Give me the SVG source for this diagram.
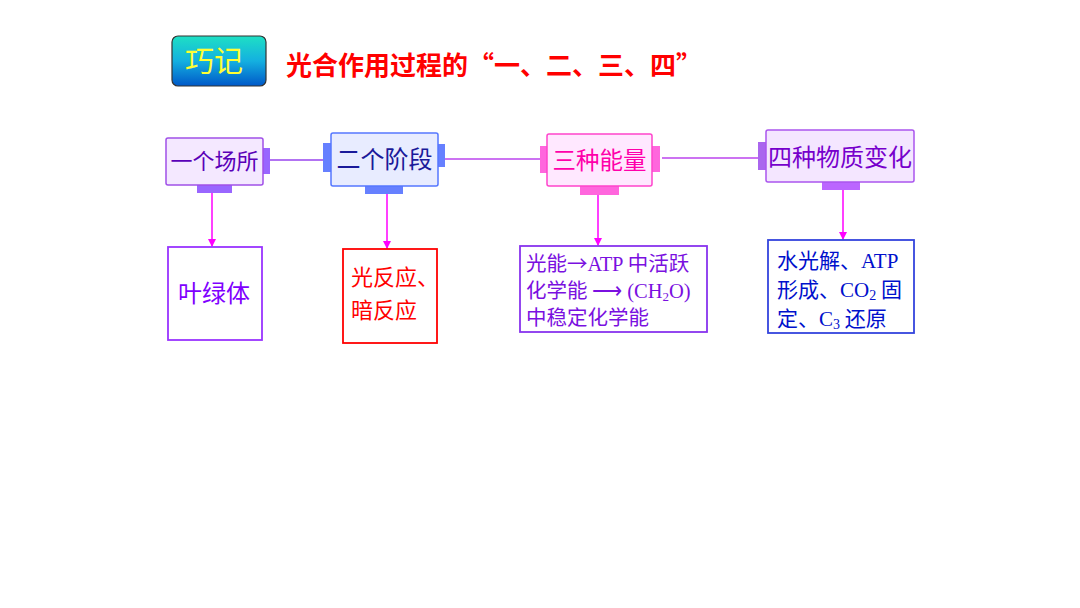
<svg xmlns="http://www.w3.org/2000/svg" width="1080" height="608" viewBox="0 0 1080 608">
<defs>
<linearGradient id="badge" x1="0" y1="0" x2="0" y2="1">
<stop offset="0" stop-color="#1ee0c4"/>
<stop offset="0.5" stop-color="#14b0e0"/>
<stop offset="1" stop-color="#0058c8"/>
</linearGradient>
<marker id="ah" markerWidth="8" markerHeight="8" refX="7" refY="4" orient="auto" markerUnits="userSpaceOnUse">
<path d="M0,0 L8,4 L0,8 Z" fill="#ff00ff"/>
</marker>
<style>
.cjk{font-family:"Noto Sans CJK SC","Noto Sans",sans-serif;}
.lat{font-family:"Liberation Serif",serif;}
.hline{stroke-width:1.5;fill:none;}
.vline{stroke:#ff00ff;stroke-width:1.5;fill:none;marker-end:url(#ah);}
</style>
</defs>
<rect width="1080" height="608" fill="#ffffff"/>

<g id="title">
<rect x="172" y="36" width="94" height="50" rx="6" fill="url(#badge)" stroke="#333" stroke-width="1.2"/>
<text x="214" y="72" class="cjk" font-size="29" fill="#ffff33" text-anchor="middle">巧记</text>
<text x="286" y="75" class="cjk" font-size="26" font-weight="bold" fill="#ff0000">光合作用过程的“一、二、三、四”</text>
</g>

<g id="connectors">
<line class="hline" x1="270" y1="160" x2="323" y2="160" stroke="#9944ee"/>
<line class="hline" x1="445" y1="159" x2="540" y2="159" stroke="#bb44ee"/>
<line class="hline" x1="662" y1="158" x2="758" y2="158" stroke="#bb44ee"/>
<line class="vline" x1="212" y1="193" x2="212" y2="246"/>
<line class="vline" x1="387" y1="194" x2="387" y2="248"/>
<line class="vline" x1="598" y1="195" x2="598" y2="245"/>
<line class="vline" x1="843" y1="190" x2="843" y2="239"/>
</g>

<g id="node1">
<rect x="263" y="148" width="7" height="26" fill="#9966ff"/>
<rect x="197" y="185" width="35" height="8" fill="#9966ff"/>
<rect x="166" y="138" width="97" height="47" rx="2" fill="#f4e8ff" stroke="#a050e8" stroke-width="1.5"/>
<text x="214.5" y="169" class="cjk" font-size="22" fill="#5a00b8" text-anchor="middle">一个场所</text>
</g>

<g id="node2">
<rect x="323" y="143" width="8" height="29" fill="#6680ff"/>
<rect x="438" y="144" width="7" height="23" fill="#6680ff"/>
<rect x="365" y="186" width="38" height="8" fill="#6680ff"/>
<rect x="331" y="133" width="107" height="53" rx="2" fill="#e8ecff" stroke="#5577ff" stroke-width="1.5"/>
<text x="384.5" y="168" class="cjk" font-size="24" fill="#1a1a9a" text-anchor="middle">二个阶段</text>
</g>

<g id="node3">
<rect x="540" y="146" width="7" height="27" fill="#ff66dd"/>
<rect x="652" y="146" width="8" height="26" fill="#ff66dd"/>
<rect x="580" y="186" width="39" height="9" fill="#ff66dd"/>
<rect x="547" y="134" width="105" height="52" rx="2" fill="#ffe8ff" stroke="#ff44cc" stroke-width="1.5"/>
<text x="599.5" y="169" class="cjk" font-size="23.5" fill="#ff00aa" text-anchor="middle">三种能量</text>
</g>

<g id="node4">
<rect x="758" y="142" width="8" height="28" fill="#aa66ee"/>
<rect x="822" y="182" width="38" height="8" fill="#bb66ff"/>
<rect x="766" y="130" width="148" height="52" rx="2" fill="#f4e6ff" stroke="#aa55ee" stroke-width="1.5"/>
<text x="840" y="166" class="cjk" font-size="24" fill="#7700cc" text-anchor="middle">四种物质变化</text>
</g>

<g id="node5">
<rect x="168" y="247" width="94" height="93" fill="#ffffff" stroke="#9933ff" stroke-width="1.8"/>
<text x="214" y="302" class="cjk" font-size="24" fill="#8000ff" text-anchor="middle">叶绿体</text>
</g>

<g id="node6">
<rect x="343" y="249" width="94" height="94" fill="#ffffff" stroke="#ff0000" stroke-width="1.8"/>
<text x="351" y="285" class="cjk" font-size="22" fill="#ff0000">光反应、</text>
<text x="351" y="318" class="cjk" font-size="22" fill="#ff0000">暗反应</text>
</g>

<g id="node7">
<rect x="520" y="246" width="187" height="86" fill="#ffffff" stroke="#8833ee" stroke-width="1.8"/>
<text x="526" y="271" class="cjk" font-size="20.5" fill="#7a10e0">光能<tspan>→</tspan><tspan class="lat" textLength="36">ATP</tspan> 中活跃</text>
<text x="526" y="298" class="cjk" font-size="20.5" fill="#7a10e0">化学能 <tspan class="lat">⟶ (CH</tspan><tspan class="lat" font-size="13" dy="3">2</tspan><tspan class="lat" dy="-3">O)</tspan></text>
<text x="526" y="325" class="cjk" font-size="20.5" fill="#7a10e0">中稳定化学能</text>
</g>

<g id="node8">
<rect x="768" y="240" width="146" height="93" fill="#ffffff" stroke="#3344dd" stroke-width="1.8"/>
<text x="777" y="268" class="cjk" font-size="21" fill="#0010cc">水光解、<tspan class="lat">ATP</tspan></text>
<text x="777" y="297" class="cjk" font-size="21" fill="#0010cc">形成、<tspan class="lat">CO</tspan><tspan class="lat" font-size="14" dy="3">2</tspan><tspan dy="-3"> 固</tspan></text>
<text x="777" y="326" class="cjk" font-size="21" fill="#0010cc">定、<tspan class="lat">C</tspan><tspan class="lat" font-size="14" dy="3">3</tspan><tspan dy="-3"> 还原</tspan></text>
</g>
</svg>
